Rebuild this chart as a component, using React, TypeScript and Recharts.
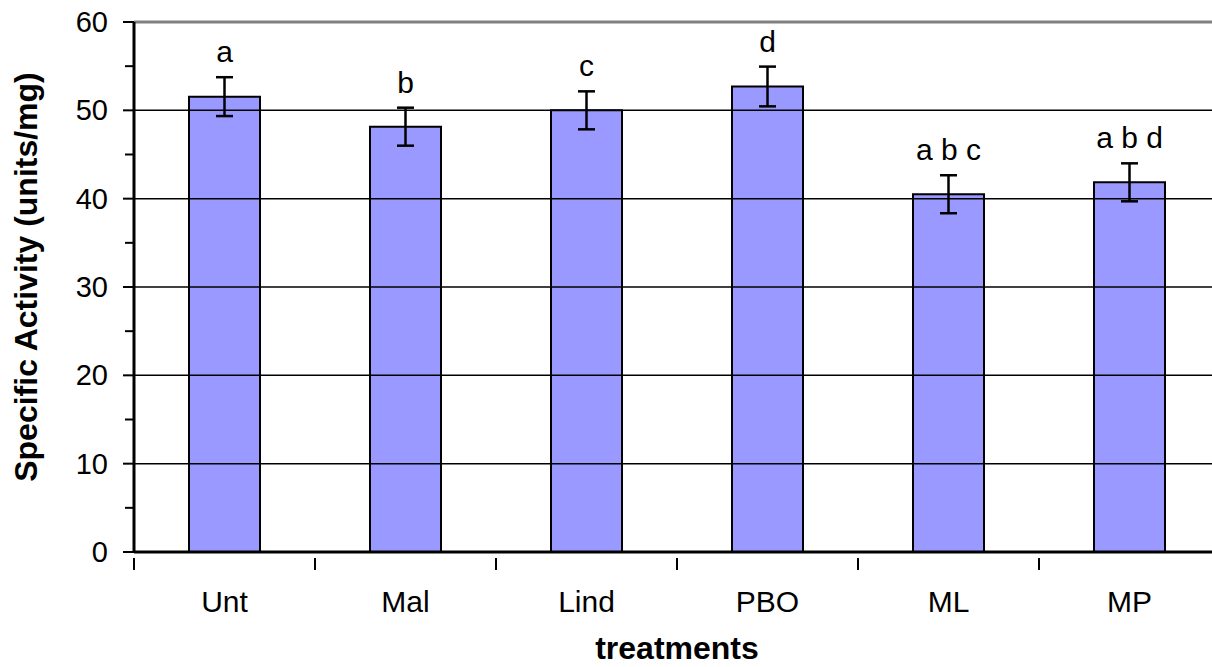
import React from "react";
import {
  ComposedChart,
  Bar,
  ErrorBar,
  Line,
  XAxis,
  YAxis,
  ReferenceLine,
  LabelList,
} from "recharts";

// Specific activity per treatment (mean ± error) with significance letters
const treatments = ["Unt", "Mal", "Lind", "PBO", "ML", "MP"];
const activity = [51.55, 48.15, 50.0, 52.7, 40.5, 41.85];
const errors = [2.2, 2.15, 2.15, 2.25, 2.15, 2.15];
const letters = ["a", "b", "c", "d", "a b c", "a b d"];

const yTicks = [0, 5, 10, 15, 20, 25, 30, 35, 40, 45, 50, 55, 60];
const gridValues = [10, 20, 30, 40, 50];

const data = treatments.map((name, i) => ({
  name,
  activity: activity[i],
  err: errors[i],
  top: activity[i] + errors[i],
  letter: letters[i],
}));

const FONT = "'Liberation Sans', Arial, sans-serif";
const HALF_BAND = 1086 / 6 / 2;

const YTick = (props: any) => {
  const { x, y, payload } = props;
  const major = payload.value % 10 === 0;
  const axisX = x + 26;
  return (
    <g>
      <line
        x1={axisX - (major ? 11 : 9)}
        x2={axisX}
        y1={y}
        y2={y}
        stroke="#000"
        strokeWidth={2}
      />
      {major && (
        <text
          x={x}
          y={y + 10}
          textAnchor="end"
          fontSize={29}
          fontFamily={FONT}
          fill="#000"
        >
          {payload.value}
        </text>
      )}
    </g>
  );
};

const XTick = (props: any) => {
  const { x, y, payload } = props;
  const bx = x - HALF_BAND;
  return (
    <g>
      <line x1={bx} x2={bx} y1={y - 2} y2={y + 10} stroke="#000" strokeWidth={2} />
      <text
        x={x}
        y={y + 52}
        textAnchor="middle"
        fontSize={30}
        fontFamily={FONT}
        fill="#000"
      >
        {payload.value}
      </text>
    </g>
  );
};

const LetterLabel = (props: any) => {
  const { x, y, value } = props;
  return (
    <text
      x={x}
      y={y - 15}
      textAnchor="middle"
      fontSize={30}
      fontFamily={FONT}
      fill="#000"
    >
      {value}
    </text>
  );
};

const YTitle = () => (
  <text
    transform="translate(37, 277) rotate(-90)"
    textAnchor="middle"
    fontSize={32}
    fontWeight="bold"
    fontFamily={FONT}
    fill="#000"
  >
    Specific Activity (units/mg)
  </text>
);

const XTitle = (props: any) => {
  const vb = props.viewBox || {};
  const cx = (vb.x ?? 134) + (vb.width ?? 1086) / 2;
  return (
    <text
      x={cx}
      y={659}
      textAnchor="middle"
      fontSize={32}
      fontWeight="bold"
      fontFamily={FONT}
      fill="#000"
    >
      treatments
    </text>
  );
};

export default function App() {
  return (
    <div
      style={{
        position: "absolute",
        left: 0,
        top: 0,
        width: 1212,
        height: 667,
        overflow: "hidden",
        background: "#fff",
      }}
    >
      <ComposedChart
        width={1230}
        height={667}
        data={data}
        margin={{ top: 22, right: 10, bottom: 0, left: 0 }}
        barCategoryGap={0}
      >
        <XAxis
          dataKey="name"
          height={115}
          axisLine={{ stroke: "#000", strokeWidth: 3 }}
          tickLine={false}
          tick={<XTick />}
          interval={0}
          label={<XTitle />}
        />
        <YAxis
          width={134}
          domain={[0, 60]}
          ticks={yTicks}
          interval={0}
          axisLine={{ stroke: "#000", strokeWidth: 3 }}
          tickLine={false}
          tickSize={0}
          tickMargin={26}
          tick={<YTick />}
          label={<YTitle />}
        />
        {gridValues.map((v) => (
          <ReferenceLine key={v} y={v} stroke="#000" strokeWidth={1.5} />
        ))}
        <ReferenceLine y={60} stroke="#808080" strokeWidth={3} />
        <Bar
          dataKey="activity"
          fill="#9999FF"
          stroke="#000"
          strokeWidth={2}
          barSize={71}
          isAnimationActive={false}
        >
          <ErrorBar
            dataKey="err"
            width={8.5}
            stroke="#000"
            strokeWidth={2.5}
          />
        </Bar>
        <Line
          dataKey="top"
          stroke="none"
          dot={false}
          activeDot={false}
          isAnimationActive={false}
        >
          <LabelList dataKey="letter" content={<LetterLabel />} />
        </Line>
      </ComposedChart>
    </div>
  );
}
